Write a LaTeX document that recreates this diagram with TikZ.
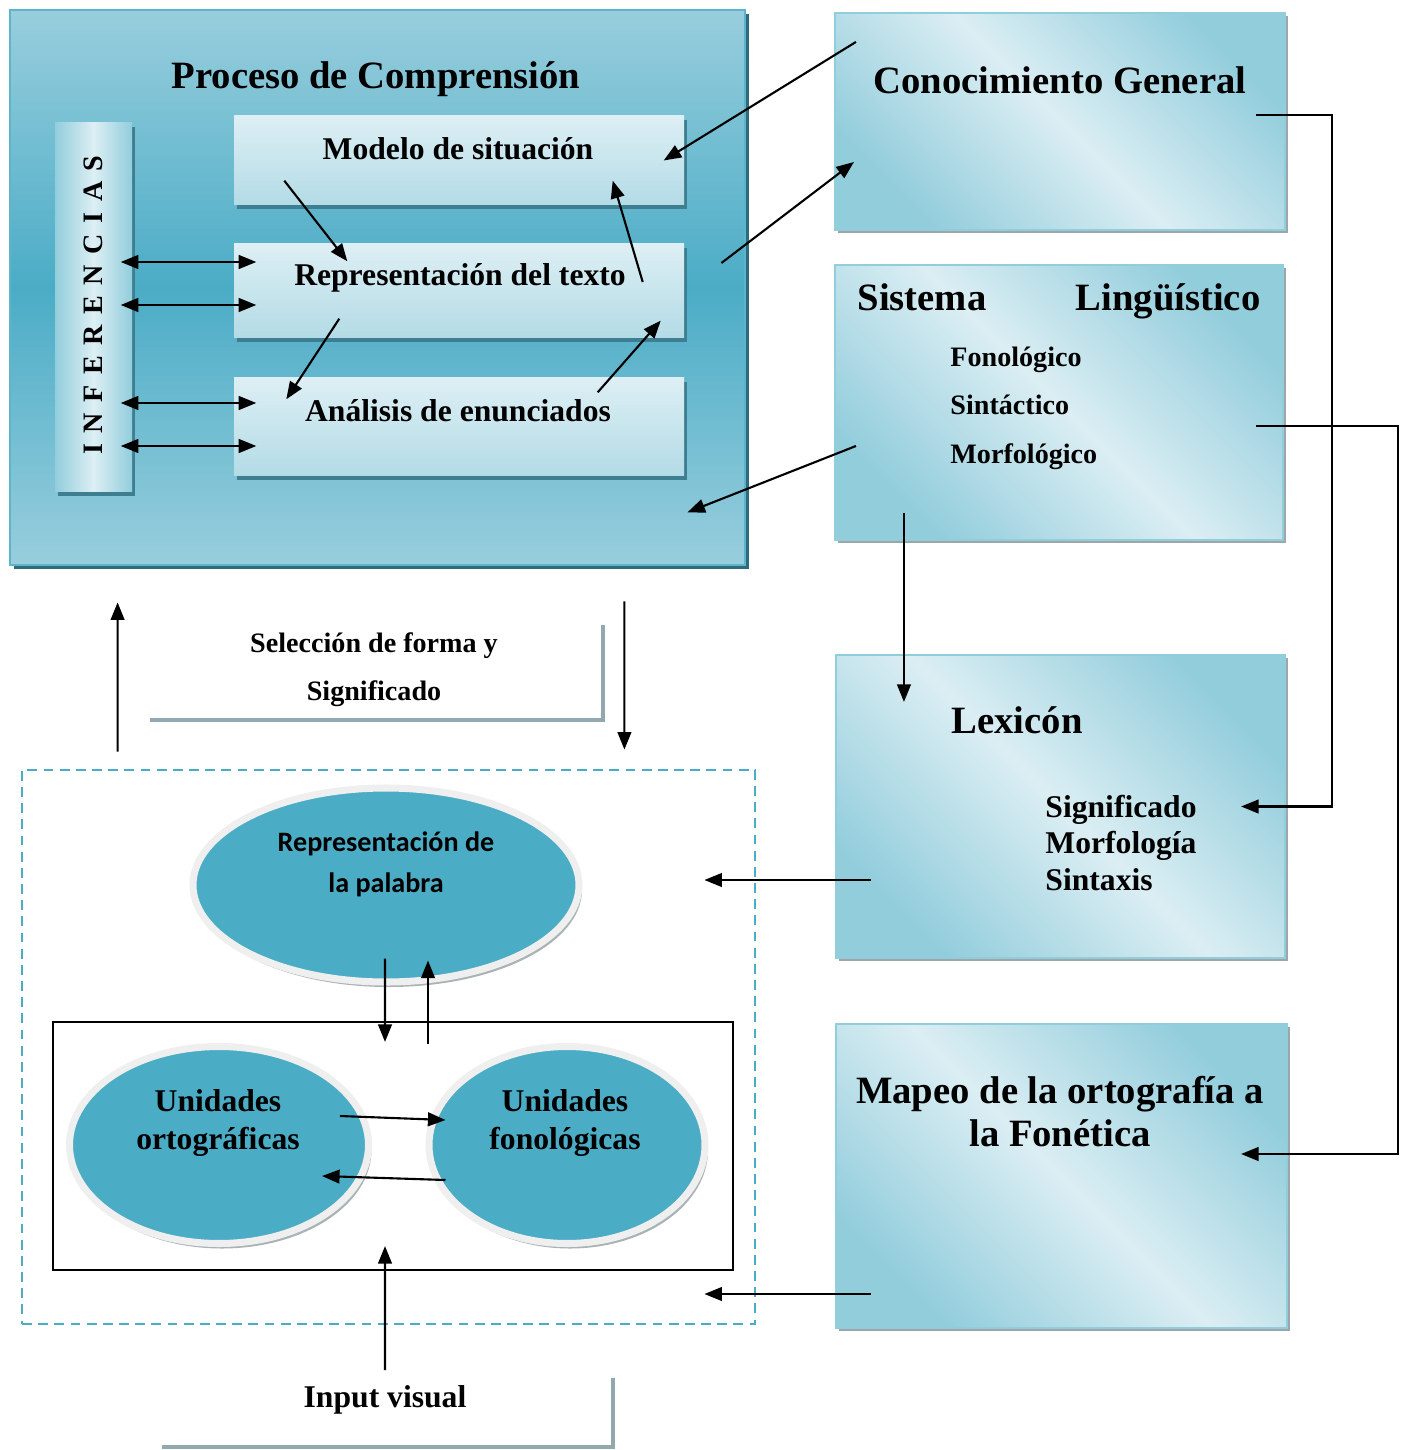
\documentclass[tikz,border=0pt]{standalone}
\usepackage{fontspec}
\setmainfont{Liberation Serif}
\newfontfamily\calibrifont{Carlito}
\usetikzlibrary{arrows.meta,shapes.geometric,shadows,calc}

\definecolor{bandteal}{HTML}{4BACC6}
\definecolor{bandpale}{HTML}{98CEDD}
\definecolor{bandedge}{HTML}{5DB4CB}
\definecolor{bandshade}{HTML}{2E6B7B}
\definecolor{layerlight}{HTML}{DDEFF4}
\definecolor{layerblue}{HTML}{B3DBE6}
\definecolor{layershade}{HTML}{3D7F90}
\definecolor{knowdark}{HTML}{92CDDC}
\definecolor{knowlight}{HTML}{DBEEF3}
\definecolor{knowshade}{HTML}{9BA7AA}
\definecolor{ringgray}{HTML}{EFEFEF}
\definecolor{ringshade}{HTML}{A9B3B6}
\definecolor{tabgray}{HTML}{91A8AE}

\tikzset{
  oneway/.style={-{Triangle[length=5pt,width=3.9pt]}, line width=0.6pt},
  twoway/.style={{Triangle[length=5pt,width=3.9pt]}-{Triangle[length=5pt,width=3.9pt]}, line width=0.6pt},
  procbox/.style={rectangle, inner sep=0pt, top color=bandpale, bottom color=bandpale, middle color=bandteal,
    draw=bandedge, line width=0.8pt, drop shadow={fill=bandshade, opacity=1, shadow xshift=0.04cm, shadow yshift=-0.04cm}},
  layerbox/.style={rectangle, inner sep=0pt, top color=layerlight, bottom color=layerblue,
    drop shadow={fill=layershade, opacity=1, shadow xshift=0.03cm, shadow yshift=-0.04cm}},
  infbar/.style={rectangle, inner sep=0pt, left color=knowdark, right color=knowdark, middle color=layerlight,
    drop shadow={fill=layershade, opacity=1, shadow xshift=0.03cm, shadow yshift=-0.04cm}},
  knowbox/.style={rectangle, inner sep=0pt, top color=knowdark, bottom color=knowdark, middle color=knowlight,
    shading angle=-45, draw=knowdark, line width=0.6pt,
    drop shadow={fill=knowshade, opacity=1, shadow xshift=0.03cm, shadow yshift=-0.03cm}},
  unitell/.style={ellipse, inner sep=0pt, fill=bandteal, draw=ringgray, line width=2pt,
    drop shadow={fill=ringshade, opacity=1, shadow xshift=0.03cm, shadow yshift=-0.05cm}},
  tabline/.style={draw=tabgray, line width=1.1pt},
  boxtitle/.style={font=\bfseries\fontsize{11}{13}\selectfont},
  layertext/.style={font=\bfseries\fontsize{9}{11}\selectfont},
  unittext/.style={font=\bfseries\fontsize{9}{10.8}\selectfont, align=center},
}

\begin{document}
\begin{tikzpicture}
  \useasboundingbox (0,0) rectangle (14.05,-14.50);
  % comprehension block
  \node[procbox, minimum width=7.35cm, minimum height=5.55cm] (proc) at (3.775,-2.875) {};
  \node[boxtitle] (proctitle) at (3.76,-0.79) {Proceso de Comprensión};
  \node[infbar, minimum width=0.77cm, minimum height=3.69cm] (inf) at (0.935,-3.075) {};
  \node[rotate=90, font=\bfseries\fontsize{8}{10}\selectfont] (inftxt) at (0.93,-3.05) {\spaceskip=3pt I N F E R E N C I A S};
  \node[layerbox, minimum width=4.5cm, minimum height=0.89cm] (modelo) at (4.59,-1.605) {};
  \node[layertext] (modelotxt) at (4.58,-1.49) {Modelo de situación};
  \node[layerbox, minimum width=4.5cm, minimum height=0.94cm] (texto) at (4.59,-2.91) {};
  \node[layertext] (textotxt) at (4.60,-2.78) {Representación del texto};
  \node[layerbox, minimum width=4.5cm, minimum height=0.98cm] (analisis) at (4.59,-4.27) {};
  \node[layertext] (analisistxt) at (4.58,-4.11) {Análisis de enunciados};
  % knowledge sources
  \node[knowbox, minimum width=4.5cm, minimum height=2.17cm] (know) at (10.60,-1.215) {};
  \node[boxtitle] (knowtxt) at (10.60,-0.80) {Conocimiento General};
  \node[knowbox, minimum width=4.48cm, minimum height=2.75cm] (ling) at (10.59,-4.025) {};
  \node[boxtitle, anchor=base] (lingA) at (9.22,-3.11) {Sistema};
  \node[boxtitle, anchor=base] (lingB) at (11.68,-3.11) {Lingüístico};
  \node[font=\bfseries\fontsize{8}{13.8}\selectfont, align=left, anchor=west] (lingitems) at (9.38,-4.08) {Fonológico\\Sintáctico\\Morfológico};
  \node[knowbox, minimum width=4.49cm, minimum height=3.03cm] (lex) at (10.605,-8.065) {};
  \node[boxtitle] (lextxt) at (10.17,-7.20) {Lexicón};
  \node[font=\bfseries\fontsize{9}{10.5}\selectfont, align=left, anchor=west] (lexitems) at (10.33,-8.43) {Significado\\Morfología\\Sintaxis};
  \node[knowbox, minimum width=4.51cm, minimum height=3.04cm] (map) at (10.615,-11.76) {};
  \node[font=\bfseries\fontsize{11}{12.2}\selectfont, align=center] (maptxt) at (10.60,-11.12) {Mapeo de la ortografía a\\la Fonética};
  % selection label
  \node[font=\bfseries\fontsize{8}{13.7}\selectfont, align=center] (selec) at (3.74,-6.70) {Selección de forma y\\Significado};
  \draw[tabline] (1.50,-7.20) -- (6.03,-7.20) -- (6.03,-6.25);
  % word recognition
  \node[draw=bandteal, dash pattern=on 2.8pt off 1.8pt, line width=0.8pt, minimum width=7.33cm, minimum height=5.54cm] (wordzone) at (3.885,-10.47) {};
  \node[unitell, minimum width=3.86cm, minimum height=1.94cm] (word) at (3.86,-8.85) {};
  \node[font=\calibrifont\bfseries\fontsize{8}{11.7}\selectfont, align=center] (wordtxt) at (3.86,-8.64) {Representación de\\la palabra};
  \node[draw, line width=0.6pt, minimum width=6.8cm, minimum height=2.48cm] (unitbox) at (3.93,-11.46) {};
  \node[unitell, minimum width=2.99cm, minimum height=1.97cm] (orto) at (2.19,-11.45) {};
  \node[unittext] (ortotxt) at (2.18,-11.23) {Unidades\\ortográficas};
  \node[unitell, minimum width=2.76cm, minimum height=1.97cm] (fono) at (5.67,-11.45) {};
  \node[unittext] (fonotxt) at (5.65,-11.23) {Unidades\\fonológicas};
  \node[font=\bfseries\fontsize{9}{11}\selectfont] (input) at (3.85,-14.00) {Input visual};
  \draw[tabline] (1.62,-14.47) -- (6.13,-14.47) -- (6.13,-13.78);
  % arrows in the comprehension block
  \draw[oneway] ($(know.north west)+(0.22,-0.30)$) -- ($(modelo.east)+(-0.21,0)$);
  \draw[oneway] ($(proc.east)+(-0.25,0.245)$) -- ($(know.west)+(0.20,-0.405)$);
  \draw[oneway] ($(ling.west)+(0.22,-0.435)$) -- ($(proc.south east)+(-0.59,0.54)$);
  \draw[oneway] ($(modelo.south west)+(0.51,0.25)$) -- ($(texto.north west)+(1.14,-0.18)$);
  \draw[oneway] ($(texto.south west)+(1.06,0.20)$) -- ($(analisis.north west)+(0.53,-0.22)$);
  \draw[oneway] ($(texto.east)+(-0.42,0.09)$) -- ($(modelo.south east)+(-0.72,0.25)$);
  \draw[oneway] ($(analisis.north east)+(-0.87,-0.15)$) -- ($(texto.south east)+(-0.24,0.18)$);
  \foreach \lay/\dy in {texto/0.29, texto/-0.14, analisis/0.24, analisis/-0.19}
    \draw[twoway] ($(inf.east |- \lay.west)+(-0.12,\dy)$) -- ($(\lay.west)+(0.23,\dy)$);
  % knowledge connectors
  \draw[oneway] ($(know.east)+(-0.30,0.065)$) -- ++(0.76,0) |- ($(lex.east)+(-0.45,0)$);
  \draw[oneway] ($(ling.east)+(-0.28,-0.235)$) -- ++(1.42,0) |- ($(map.east)+(-0.47,0.22)$);
  \draw[oneway] ($(ling.south west)+(0.70,0.28)$) -- ($(lex.north west)+(0.69,-0.48)$);
  \draw[oneway] ($(lex.west)+(0.36,-0.735)$) coordinate (lexout) -- ($(lexout -| wordzone.east)+(-0.52,0)$);
  \draw[oneway] ($(map.west)+(0.36,-1.18)$) coordinate (mapout) -- ($(mapout -| wordzone.east)+(-0.52,0)$);
  % between the blocks
  \draw[oneway] ($(wordzone.north west)+(0.97,0.17)$) -- ($(proc.south west)+(1.09,-0.36)$);
  \draw[oneway] ($(proc.south east)+(-1.22,-0.35)$) -- ($(wordzone.north east)+(-1.32,0.19)$);
  % word units
  \draw[oneway] ($(word.south)+(-0.01,0.27)$) -- ($(unitbox.north)+(-0.08,-0.21)$);
  \draw[oneway] ($(unitbox.north)+(0.35,-0.23)$) -- ($(word.south)+(0.42,0.25)$);
  \draw[oneway] ($(orto.center)+(1.21,0.29)$) -- ($(fono.west)+(0.20,0.25)$);
  \draw[oneway] ($(fono.west)+(0.20,-0.35)$) -- ($(orto.center)+(1.03,-0.31)$);
  \draw[oneway] ($(input.center)+(0,0.30)$) -- ($(unitbox.south)+(-0.08,0.25)$);
\end{tikzpicture}
\end{document}
